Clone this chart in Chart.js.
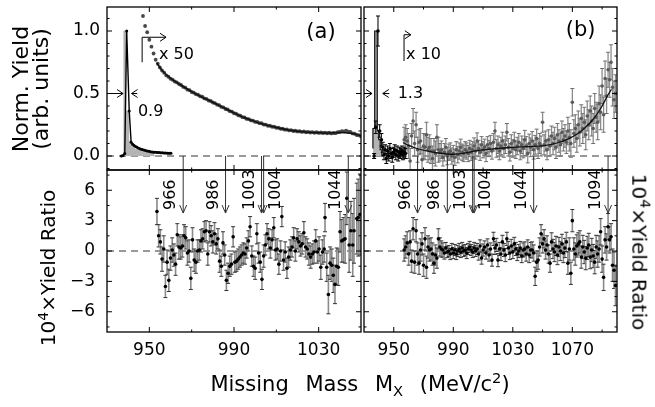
<!DOCTYPE html>
<html><head><meta charset="utf-8">
<script src="https://cdn.jsdelivr.net/npm/chart.js@4.4.1/dist/chart.umd.min.js"></script>
<style>
html,body{margin:0;padding:0;background:#fff;width:655px;height:407px;overflow:hidden;font-family:"DejaVu Sans",sans-serif;}
canvas{position:absolute;}
.t{position:absolute;white-space:nowrap;line-height:1;color:#000;}
</style></head><body>
<canvas id="ta" width="366" height="176" style="left:0;top:0"></canvas>
<canvas id="ba" width="366" height="243" style="left:0;top:164px"></canvas>
<canvas id="tb" width="297" height="176" style="left:358px;top:0"></canvas>
<canvas id="bb" width="297" height="243" style="left:358px;top:164px"></canvas>
<div class="t" style="left:21px;top:89px;font-size:22px;transform:translate(-50%,-50%) rotate(-90deg)">Norm. Yield</div>
<div class="t" style="left:41px;top:89px;font-size:22px;transform:translate(-50%,-50%) rotate(-90deg)">(arb. units)</div>
<div class="t" style="left:47px;top:268px;font-size:20px;transform:translate(-50%,-50%) rotate(-90deg)">10<span style="font-size:70%;vertical-align:0.55em">4</span>×Yield Ratio</div>
<div class="t" style="left:641px;top:252px;font-size:20px;transform:translate(-50%,-50%) rotate(90deg)">10<span style="font-size:70%;vertical-align:0.55em">4</span>×Yield Ratio</div>
<div class="t" style="left:360px;top:385px;font-size:21px;transform:translate(-50%,-50%);word-spacing:10px">Missing Mass M<span style="font-size:70%;vertical-align:-0.3em">X</span> (MeV/c<span style="font-size:70%;vertical-align:0.55em">2</span>)</div>
<script>
// ---------------- DATA ----------------
// Panel (a) top: peak (black) and gray histogram
const massPeakA = [936.8,937.6,938.4,939.3,940.5,941.4,942.1,942.8,943.5,944.2,945.0,945.8,946.6,947.4,948.2,949.0,949.8,950.6,951.4,952.2,953.0,953.8,954.6,955.4,956.2,957.0,957.8,958.6,959.4,960.2];
const yieldPeakA = [0.0,0.005,0.02,1.0,0.36,0.11,0.095,0.085,0.077,0.07,0.063,0.057,0.052,0.048,0.044,0.041,0.038,0.035,0.033,0.031,0.03,0.029,0.028,0.027,0.026,0.025,0.024,0.023,0.022,0.022];
const massHistA = [938.0,938.7,940.2,941.0,942.0,943.0,944.5,946.0,948.0,950.0,952.0,954.0];
const yieldHistA = [0.01,1.0,0.36,0.12,0.09,0.07,0.055,0.045,0.035,0.03,0.02,0];
// Panel (a) top: x50 continuum
const massX50A = [947,948,949,950,951,952,953,954,955,956,957,958,959,960,961,962,963,964,965,966,967,968,969,970,971,972,973,974,975,976,977,978,979,980,981,982,983,984,985,986,987,988,989,990,991,992,993,994,995,996,997,998,999,1000,1001,1002,1003,1004,1005,1006,1007,1008,1009,1010,1011,1012,1013,1014,1015,1016,1017,1018,1019,1020,1021,1022,1023,1024,1025,1026,1027,1028,1029,1030,1031,1032,1033,1034,1035,1036,1037,1038,1039,1040,1041,1042,1043,1044,1045,1046,1047,1048,1049,1050];
const yieldX50A = [1.12,1.04,0.99,0.93,0.875,0.82,0.77,0.738,0.708,0.684,
 0.667,0.645,0.634,0.618,0.61,0.596,0.589,0.576,0.568,0.553,
 0.547,0.531,0.527,0.512,0.507,0.495,0.49,0.478,0.474,0.461,
 0.457,0.444,0.44,0.428,0.423,0.411,0.406,0.393,0.389,0.376,
 0.372,0.359,0.355,0.342,0.338,0.326,0.322,0.311,0.308,0.297,
 0.295,0.285,0.283,0.273,0.272,0.263,0.262,0.252,0.251,0.242,
 0.242,0.234,0.234,0.226,0.226,0.218,0.218,0.211,0.212,0.205,
 0.207,0.2,0.202,0.196,0.198,0.193,0.196,0.19,0.193,0.188,
 0.191,0.186,0.19,0.185,0.188,0.184,0.187,0.182,0.186,0.181,
 0.184,0.183,0.19,0.192,0.199,0.197,0.203,0.194,0.192,0.181,
 0.178,0.168,0.166,0.157];
const massFitA = [953.5,956,960,965,970,975,980,985,990,995,1000,1005,1010,1015,1020,1025,1030,1035,1040,1045,1050];
const yieldFitA = [0.745,0.685,0.622,0.566,0.515,0.47,0.43,0.387,0.345,0.306,0.275,0.249,0.228,0.21,0.198,0.19,0.186,0.184,0.188,0.182,0.162];

// Panel (a) bottom: yield ratio
const massRatioA = [953.6,954.4,955.2,956.0,956.8,957.6,958.4,959.2,960.0,960.8,
 961.6,962.4,963.2,964.0,964.8,965.6,966.4,967.2,968.0,968.8,
 969.6,970.4,971.2,972.0,972.8,973.6,974.4,975.2,976.0,976.8,
 977.6,978.4,979.2,980.0,980.8,981.6,982.4,983.2,984.0,984.8,
 985.6,986.4,987.2,988.0,988.8,989.6,990.4,991.2,992.0,992.8,
 993.6,994.4,995.2,996.0,996.8,997.6,998.4,999.2,1000.0,1000.8,
 1001.6,1002.4,1003.2,1004.0,1004.8,1005.6,1006.4,1007.2,1008.0,1008.8,
 1009.6,1010.4,1011.2,1012.0,1012.6,1013.4,1014.2,1015.0,1015.8,1016.6,
 1017.4,1018.2,1019.0,1019.8,1020.6,1021.4,1022.2,1023.0,1023.8,1024.6,
 1025.4,1026.2,1027.0,1027.8,1028.6,1029.4,1030.2,1031.0,1031.8,1032.6,
 1033.0,1033.8,1034.6,1035.4,1036.2,1036.9,1037.7,1038.5,1039.3,1040.1,
 1040.9,1041.7,1042.5,1043.3,1044.4,1045.2,1046.1,1046.7,1048.0,1048.7,1049.5];
const ratioA = [3.9,1.5,0.9,-0.8,0.2,-3.5,-1.1,-2.9,-0.7,0.1,
 -0.4,-1.3,1.6,0.4,0.3,0.5,1.5,1.3,-0.2,0.0,
 -2.7,1.1,-0.9,-1.1,0.0,0.1,1.0,1.2,1.9,2.0,
 -0.3,1.9,1.5,0.9,1.7,0.7,1.2,-1.0,-1.5,0.8,
 -0.4,-2.9,-2.2,-1.5,-1.3,1.4,-1.1,-1.0,-0.8,-0.6,
 -0.4,-0.2,-0.3,0.3,1.0,2.4,-0.5,-1.5,-1.7,1.7,
 -0.2,-1.1,-2.8,-0.5,0.6,1.7,1.2,0.3,1.1,2.3,
 0.1,0.2,-1.3,0.0,3.4,-0.9,-0.1,-1.7,-0.6,0.1,
 0.4,1.3,0.0,1.2,0.9,0.5,0.7,1.8,0.4,0.2,
 -0.3,-0.6,-0.3,-0.1,1.0,-0.1,0.2,-1.6,-0.1,0.2,
 3.3,-1.6,-4.3,-1.2,-1.4,-2.4,-3.3,-1.5,-1.6,1.9,
 1.0,1.1,1.2,5.2,0.6,2.0,0.6,2.0,3.2,3.3,3.6];
const errRatioA = [1.3,1.1,1.2,1.2,1.3,1.1,1.2,1.1,1.2,1.2,
 1.1,1.1,1.1,1.2,1.1,1.1,1.1,1.1,1.2,1.1,
 1.1,1.2,1.1,1.1,1.1,1.0,1.1,1.0,1.0,1.0,
 1.1,1.0,1.0,1.1,1.1,1.0,1.0,1.1,1.0,1.1,
 1.0,1.0,1.0,1.0,1.0,1.0,1.0,1.0,1.0,1.0,
 1.0,1.0,1.0,1.0,1.0,1.0,1.0,1.0,1.1,1.0,
 1.0,1.0,1.0,1.1,1.0,1.0,1.0,1.0,1.0,1.0,
 1.0,1.0,1.0,1.0,1.0,1.0,1.0,1.0,1.0,1.0,
 1.0,1.0,1.0,1.0,1.0,1.0,1.0,1.1,1.0,1.0,
 1.1,1.1,1.0,1.1,1.1,1.1,1.2,1.2,1.2,1.3,
 1.4,1.4,1.9,1.6,1.6,1.7,1.9,1.8,1.8,2.0,
 2.1,2.2,2.4,2.6,2.7,2.9,3.1,3.2,3.5,3.8,4.0];

// Panel (b) top: peak
const massPeakB = [936.8,937.9,939.4,940.5,941.7,942.6,943.4,944.2,945.0,945.8,946.6,947.4,948.2,949.0,949.8,950.6,951.4,952.2,953.0,953.8,954.6,955.4,956.2,957.0,957.8];
const yieldPeakB = [0.0,0.23,1.0,0.2,0.13,0.07,0.01,0.05,-0.02,0.04,0.0,0.06,0.02,-0.01,0.03,0.05,0.01,0.04,0.0,0.03,0.02,0.04,0.01,0.03,0.02];
const errPeakB = [0.02,0.05,0.12,0.05,0.05,0.04,0.04,0.04,0.04,0.04,0.04,0.04,0.04,0.04,0.04,0.04,0.04,0.04,0.04,0.04,0.04,0.04,0.04,0.04,0.04];
const massHistB = [936.0,937.2,938.9,939.9,940.9,942.0,943.2];
const yieldHistB = [0.06,0.22,1.0,0.2,0.13,0.05,0];
// Panel (b): common mass bins for x10 continuum and ratio
const massB = [957,958,959,960,961,962,963,964,965,966,967,968,969,970,971,972,973,974,975,976,977,978,979,980,981,982,983,984,985,986,987,988,989,990,991,992,993,994,995,996,997,998,999,1000,1001,1002,1003,1004,1005,1006,1007,1008,1009,1010,1011,1012,1013,1014,1015,1016,1017,1018,1019,1020,1021,1022,1023,1024,1025,1026,1027,1028,1029,1030,1031,1032,1033,1034,1035,1036,1037,1038,1039,1040,1041,1042,1043,1044,1045,1046,1047,1048,1049,1050,1051,1052,1053,1054,1055,1056,1057,1058,1059,1060,1061,1062,1063,1064,1065,1066,1067,1068,1069,1070,1071,1072,1073,1074,1075,1076,1077,1078,1079,1080,1081,1082,1083,1084,1085,1086,1087,1088,1089,1090,1091,1092,1093,1094,1095,1096,1097,1098,1099];
const yieldX10B = [0.13,0.15,0.12,0.08,-0.04,0.16,0.28,0.10,0.25,0.05,
 0.11,0.12,-0.03,0.08,0.07,0.17,0.05,0.07,0.04,-0.02,
 0.04,0.02,0.15,0.05,0.03,0.05,-0.01,0.03,0.07,0.00,
 0.03,0.04,0.00,0.02,-0.01,0.05,0.01,0.04,0.07,0.03,
 0.02,0.05,0.04,0.02,0.06,0.03,0.05,0.08,0.04,0.12,
 0.06,0.03,0.09,0.05,0.07,0.02,0.09,0.06,0.10,0.04,
 0.11,0.20,0.06,0.09,0.04,0.08,0.12,0.06,0.09,0.19,
 0.07,0.03,0.10,0.06,0.12,0.05,0.08,0.11,0.04,0.09,
 0.06,0.13,0.08,0.02,0.10,0.07,0.12,0.05,0.09,0.14,
 0.06,0.10,0.08,0.27,0.09,0.12,0.05,0.13,0.08,0.16,
 0.10,0.14,0.07,0.17,0.12,0.09,0.19,0.13,0.16,0.11,
 0.20,0.15,0.10,0.43,0.18,0.22,0.14,0.25,0.19,0.30,
 0.22,0.27,0.17,0.32,0.25,0.36,0.28,0.22,0.38,0.31,
 0.27,0.42,0.35,0.56,0.33,0.62,0.48,0.69,0.61,0.75,
 0.55,0.45,0.50];
const errX10B = [0.10,0.10,0.10,0.10,0.10,0.10,0.10,0.10,0.10,0.10,
 0.10,0.10,0.10,0.10,0.10,0.10,0.10,0.10,0.10,0.10,
 0.10,0.10,0.10,0.10,0.07,0.07,0.07,0.07,0.07,0.07,
 0.065,0.065,0.065,0.065,0.065,0.065,0.065,0.065,0.065,0.065,
 0.065,0.065,0.065,0.065,0.065,0.065,0.065,0.065,0.065,0.065,
 0.065,0.065,0.065,0.065,0.065,0.065,0.065,0.065,0.065,0.065,
 0.07,0.07,0.07,0.07,0.07,0.07,0.07,0.07,0.07,0.07,
 0.07,0.07,0.07,0.07,0.07,0.07,0.07,0.07,0.07,0.07,
 0.075,0.075,0.075,0.075,0.075,0.075,0.075,0.075,0.075,0.075,
 0.08,0.08,0.08,0.08,0.08,0.08,0.08,0.08,0.08,0.08,
 0.09,0.09,0.09,0.09,0.09,0.09,0.09,0.09,0.09,0.09,
 0.11,0.11,0.11,0.11,0.11,0.11,0.11,0.11,0.11,0.11,
 0.12,0.12,0.12,0.12,0.12,0.12,0.12,0.12,0.12,0.12,
 0.14,0.14,0.14,0.14,0.14,0.14,0.14,0.14,0.14,0.14,
 0.15,0.15,0.15];
const massFitB = [956.2,960,965,972,980,990,1000,1005,1015,1028,1040,1050,1061,1067,1073,1078,1084,1089,1094,1096.3];
const yieldFitB = [0.108,0.085,0.062,0.041,0.024,0.014,0.028,0.041,0.055,0.068,0.075,0.081,0.108,0.135,0.174,0.22,0.294,0.38,0.49,0.534];
const ratioB = [0.1,0.4,0.8,-0.3,0.9,-1.0,2.2,-1.1,2.0,-0.3,
 -1.2,0.1,0.7,-1.4,1.2,-1.6,0.4,0.1,0.2,-0.3,
 -1.2,-0.4,-0.7,1.2,0.4,0.2,0.1,-0.2,0.3,-0.1,
 0.0,-0.3,0.2,-0.2,0.1,-0.3,0.0,0.2,-0.1,0.3,
 0.0,0.1,-0.2,0.2,0.4,0.1,-0.1,0.3,0.0,0.2,
 -0.3,0.5,-0.7,0.1,0.4,-0.2,0.6,-0.4,0.2,-0.9,
 1.2,0.3,0.6,-0.9,0.2,-0.3,0.9,0.1,-0.4,1.2,
 0.3,-0.2,0.5,-0.1,0.7,0.2,-0.3,0.0,0.3,-0.5,
 0.1,0.2,-0.3,0.4,-0.4,0.1,0.1,-0.2,-2.5,-1.1,
 -0.9,0.4,1.7,0.7,1.2,0.1,0.6,-0.3,-1.2,0.9,
 0.2,-0.1,0.5,-0.4,0.4,0.0,0.7,-0.2,0.3,0.9,
 -1.2,0.2,-2.2,3.0,0.2,-0.3,0.5,0.7,0.9,-0.6,
 0.4,-0.1,-0.7,0.3,0.6,-0.6,0.1,-0.5,-1.1,0.4,
 -0.3,0.2,1.9,-0.8,-2.6,1.1,0.4,2.4,1.1,1.4,
 -1.4,-1.9,-3.4];
const errRatioB = [1.1,1.1,1.1,1.1,1.1,1.1,1.1,1.1,1.1,1.1,
 1.1,1.1,1.1,1.1,1.1,1.1,1.1,1.1,1.1,1.1,
 1.0,1.0,1.0,1.0,0.9,0.8,0.7,0.6,0.55,0.55,
 0.55,0.55,0.55,0.55,0.55,0.55,0.55,0.55,0.55,0.55,
 0.55,0.55,0.55,0.55,0.55,0.55,0.55,0.55,0.55,0.55,
 0.6,0.6,0.6,0.6,0.6,0.6,0.6,0.6,0.6,0.6,
 0.65,0.65,0.65,0.65,0.65,0.65,0.65,0.65,0.65,0.65,
 0.65,0.65,0.65,0.65,0.65,0.65,0.65,0.65,0.65,0.65,
 0.7,0.7,0.7,0.7,0.75,0.75,0.8,0.8,0.9,0.9,
 0.9,0.9,0.9,0.9,0.9,0.9,0.9,0.9,0.9,0.9,
 0.95,0.95,0.95,0.95,0.95,0.95,0.95,0.95,0.95,0.95,
 1.1,1.1,1.1,1.1,1.1,1.1,1.1,1.1,1.1,1.1,
 1.15,1.15,1.15,1.15,1.15,1.15,1.15,1.15,1.15,1.15,
 1.3,1.3,1.3,1.3,1.3,1.3,1.3,1.3,1.3,1.3,
 1.6,1.8,2.0];

// Marked masses (arrows)
const arrowMassA = [966,986,1003,1004,1044];
const arrowLabelA = ['966','986','1003','1004','1044'];
const arrowSideA = [-1,-1,-1,1,-1];
const arrowMassB = [966,986,1003,1004,1044,1094];
const arrowLabelB = ['966','986','1003','1004','1044','1094'];
const arrowSideB = [-1,-1,-1,1,-1,-1];

// Ticks
const xMajorA = [950,990,1030], xMinorA = [970,1010];
const xMajorB = [950,990,1030,1070], xMinorB = [970,1010,1050,1090];
const yMajorTop = [0,0.5,1.0], yMinorTop = [-0.1,0.1,0.2,0.3,0.4,0.6,0.7,0.8,0.9,1.1];
const yMajorBot = [-6,-3,0,3,6], yMinorBot = [-7.5,-4.5,-1.5,1.5,4.5,7.5];

// ---------------- HELPERS ----------------
const FONT = '"DejaVu Sans", sans-serif';
Chart.defaults.font.family = FONT;
const pts = (xs, ys) => xs.map((v,i)=>({x:v, y:ys[i]}));
const extras = {};

function seg(ctx,x1,y1,x2,y2){ctx.beginPath();ctx.moveTo(x1,y1);ctx.lineTo(x2,y2);ctx.stroke();}
function head(ctx,x1,y1,x2,y2,h,w){
  const a=Math.atan2(y2-y1,x2-x1);
  ctx.beginPath();
  ctx.moveTo(x2-h*Math.cos(a)+w*Math.sin(a), y2-h*Math.sin(a)-w*Math.cos(a));
  ctx.lineTo(x2,y2);
  ctx.lineTo(x2-h*Math.cos(a)-w*Math.sin(a), y2-h*Math.sin(a)+w*Math.cos(a));
  ctx.stroke();
}
function arrow(ctx,x1,y1,x2,y2){seg(ctx,x1,y1,x2,y2);head(ctx,x1,y1,x2,y2,6,4);}
function txt(ctx,s,x,y,size,align){ctx.font=size+'px '+FONT;ctx.fillStyle='#000';ctx.textAlign=align||'left';ctx.textBaseline='middle';ctx.fillText(s,x,y);}

const deco = {
  id:'deco',
  beforeDatasetDraw(chart,args){
    const ds = chart.data.datasets[args.index];
    if(!ds.errors) return;
    const {ctx, chartArea:a, scales:{x,y}} = chart;
    ctx.save();ctx.beginPath();ctx.rect(a.left,a.top,a.width,a.height);ctx.clip();
    ds.data.forEach((p,i)=>{
      const e=ds.errors[i], px=x.getPixelForValue(p.x);
      const y1=y.getPixelForValue(p.y+e), y2=y.getPixelForValue(p.y-e);
      ctx.strokeStyle=ds.errColor; ctx.lineWidth=ds.errWidth; seg(ctx,px,y1,px,y2);
      ctx.strokeStyle=ds.capColor; ctx.lineWidth=1;
      seg(ctx,px-2,y1,px+2,y1); seg(ctx,px-2,y2,px+2,y2);
    });
    ctx.restore();
  },
  afterDatasetsDraw(chart){
    const e = extras[chart.canvas.id];
    if(e && e.fg){chart.ctx.save(); e.fg(chart); chart.ctx.restore();}
  },
  afterDraw(chart){
    const e = extras[chart.canvas.id]; if(!e) return;
    const {ctx, chartArea:a, scales:{x,y}} = chart;
    ctx.save(); ctx.strokeStyle='#000'; ctx.lineWidth=1;
    const L=5, l=2.5;
    const xt=(vals,len)=>vals.forEach(v=>{const p=x.getPixelForValue(v); seg(ctx,p,a.bottom,p,a.bottom-len); seg(ctx,p,a.top,p,a.top+len);});
    const yt=(vals,len)=>vals.forEach(v=>{const p=y.getPixelForValue(v); seg(ctx,a.left,p,a.left+len,p); seg(ctx,a.right,p,a.right-len,p);});
    xt(e.xMajor,L); xt(e.xMinor,l); yt(e.yMajor,L); yt(e.yMinor,l);
    ctx.lineWidth=1.3; ctx.strokeRect(a.left,a.top,a.right-a.left,a.bottom-a.top);
    ctx.restore();
  }
};
Chart.register(deco);

function options(o){
  return {
    responsive:false, animation:false, events:[],
    layout:{padding:o.pad},
    plugins:{legend:{display:false}, tooltip:{enabled:false}},
    scales:{
      x:{type:'linear', min:o.xmin, max:o.xmax, display:!!o.xLabels,
        grid:{display:false, drawTicks:false}, border:{display:false},
        ticks:{autoSkip:false, maxRotation:0, minRotation:0, padding:8, color:'#000', font:{size:17}, callback:v=>String(v)},
        afterBuildTicks:s=>{s.ticks=o.xMajor.map(v=>({value:v}));},
        afterFit:s=>{ if(o.xLabels){s.height=o.xH;} s.paddingLeft=0; s.paddingRight=0; }},
      y:{type:'linear', min:o.ymin, max:o.ymax, display:!!o.yLabels,
        grid:{display:false, drawTicks:false}, border:{display:false},
        ticks:{autoSkip:false, padding:o.yPad, color:'#000', font:{size:17}, callback:o.yFmt},
        afterBuildTicks:s=>{s.ticks=o.yMajor.map(v=>({value:v}));},
        afterFit:s=>{ if(o.yLabels){s.width=o.yW;} s.paddingTop=0; s.paddingBottom=0; }}
    }
  };
}
const fmtTop = v => Number(v).toFixed(1);
const fmtBot = v => v<0 ? '\u2212'+Math.abs(v) : String(v);
const zeroLine = (xmin,xmax) => ({data:[{x:xmin,y:0},{x:xmax,y:0}], borderColor:'#333', borderWidth:1, borderDash:[7,5], pointRadius:0, order:9});
const errSet = (xs,ys,es,opt) => Object.assign({data:pts(xs,ys), errors:es, showLine:false, pointRadius:1.8, pointBorderWidth:0, pointBackgroundColor:'#000', errColor:'#8a8a8a', errWidth:1.6, capColor:'#333', order:1}, opt||{});

// ---------------- PANEL (a) TOP ----------------
extras.ta = {xMajor:xMajorA, xMinor:xMinorA, yMajor:yMajorTop, yMinor:yMinorTop,
  fg(chart){
    const {ctx, chartArea:a, scales:{x,y}} = chart;
    ctx.strokeStyle='#333'; ctx.lineWidth=1;
    arrowMassA.forEach(m=>{const p=x.getPixelForValue(m); seg(ctx,p,y.getPixelForValue(0),p,a.bottom);});
    ctx.strokeStyle='#000';
    arrow(ctx,x.getPixelForValue(931.5),y.getPixelForValue(0.5),x.getPixelForValue(937.6),y.getPixelForValue(0.5));
    arrow(ctx,x.getPixelForValue(944.3),y.getPixelForValue(0.5),x.getPixelForValue(941.6),y.getPixelForValue(0.5));
    txt(ctx,'0.9',x.getPixelForValue(944.6),y.getPixelForValue(0.355),16);
    const bx=x.getPixelForValue(946.6), by1=y.getPixelForValue(0.75), by2=y.getPixelForValue(0.95), bx2=x.getPixelForValue(957.9);
    seg(ctx,bx,by1,bx,by2); arrow(ctx,bx,by2,bx2,by2);
    txt(ctx,'x 50',x.getPixelForValue(954.6),y.getPixelForValue(0.81),16);
    txt(ctx,'(a)',x.getPixelForValue(1031.1),y.getPixelForValue(0.99),21,'center');
  }};
new Chart(document.getElementById('ta'), {
  type:'line',
  data:{datasets:[
    {data:pts(massPeakA,yieldPeakA), borderColor:'#000', borderWidth:1.4, pointRadius:1.5, pointBorderWidth:0, pointBackgroundColor:'#000', order:1},
    {data:pts(massFitA,yieldFitA), borderColor:'#111', borderWidth:1.5, pointRadius:0, cubicInterpolationMode:'monotone', order:2},
    {data:pts(massX50A,yieldX50A), showLine:false, pointRadius:1.9, pointBorderWidth:0, pointBackgroundColor:'#484848', order:3},
    {data:pts(massHistA,yieldHistA), stepped:'after', fill:'origin', backgroundColor:'#b4b4b4', borderColor:'#b4b4b4', borderWidth:1, pointRadius:0, order:6},
    zeroLine(930,1050)
  ]},
  options:options({pad:{left:0,top:7,right:5,bottom:6}, xmin:930, xmax:1050, ymin:-0.112, ymax:1.192,
    xMajor:xMajorA, yMajor:yMajorTop, yLabels:true, yW:107, yPad:7, yFmt:fmtTop})
});

// ---------------- PANEL (a) BOTTOM ----------------
function bottomFg(masses, labels, sides){
  return function(chart){
    const {ctx, chartArea:a, scales:{x,y}} = chart;
    const tip = y.getPixelForValue(3.75);
    masses.forEach((m,i)=>{
      const p=x.getPixelForValue(m);
      ctx.strokeStyle='#333'; ctx.lineWidth=1;
      seg(ctx,p,a.top,p,tip);
      ctx.beginPath(); ctx.moveTo(p-3.5,tip-8); ctx.lineTo(p,tip); ctx.lineTo(p+3.5,tip-8); ctx.stroke();
      ctx.save(); ctx.translate(p+sides[i]*12, tip-3); ctx.rotate(-Math.PI/2);
      txt(ctx,labels[i],0,0,16,'left'); ctx.restore();
    });
  };
}
extras.ba = {xMajor:xMajorA, xMinor:xMinorA, yMajor:yMajorBot, yMinor:yMinorBot, fg:bottomFg(arrowMassA,arrowLabelA,arrowSideA)};
new Chart(document.getElementById('ba'), {
  type:'line',
  data:{datasets:[ errSet(massRatioA,ratioA,errRatioA), zeroLine(930,1050) ]},
  options:options({pad:{left:0,top:6,right:5,bottom:0}, xmin:930, xmax:1050, ymin:-8, ymax:8,
    xMajor:xMajorA, xLabels:true, xH:75, yMajor:yMajorBot, yLabels:true, yW:107, yPad:12, yFmt:fmtBot})
});

// ---------------- PANEL (b) TOP ----------------
extras.tb = {xMajor:xMajorB, xMinor:xMinorB, yMajor:yMajorTop, yMinor:yMinorTop,
  fg(chart){
    const {ctx, chartArea:a, scales:{x,y}} = chart;
    ctx.strokeStyle='#333'; ctx.lineWidth=1;
    arrowMassB.forEach(m=>{const p=x.getPixelForValue(m); seg(ctx,p,y.getPixelForValue(0),p,a.bottom);});
    ctx.strokeStyle='#000';
    arrow(ctx,x.getPixelForValue(930.5),y.getPixelForValue(0.5),x.getPixelForValue(935.4),y.getPixelForValue(0.5));
    arrow(ctx,x.getPixelForValue(947.0),y.getPixelForValue(0.5),x.getPixelForValue(942.6),y.getPixelForValue(0.5));
    txt(ctx,'1.3',x.getPixelForValue(952.6),y.getPixelForValue(0.5),16);
    const bx=x.getPixelForValue(956.9), by1=y.getPixelForValue(0.76), by2=y.getPixelForValue(0.97), bx2=x.getPixelForValue(961.5);
    seg(ctx,bx,by1,bx,by2); arrow(ctx,bx,by2,bx2,by2);
    txt(ctx,'x 10',x.getPixelForValue(958.3),y.getPixelForValue(0.81),16);
    txt(ctx,'(b)',x.getPixelForValue(1075.6),y.getPixelForValue(1.0),21,'center');
  }};
new Chart(document.getElementById('tb'), {
  type:'line',
  data:{datasets:[
    errSet(massPeakB,yieldPeakB,errPeakB,{order:1, errColor:'#222', errWidth:1.2, capColor:'#000'}),
    {data:pts(massFitB,yieldFitB), borderColor:'#111', borderWidth:1.3, pointRadius:0, cubicInterpolationMode:'monotone', order:2},
    errSet(massB,yieldX10B,errX10B,{order:3, pointRadius:1.8, pointBackgroundColor:'#5a5a5a', errColor:'#8c8c8c', errWidth:1.3, capColor:'#707070'}),
    {data:pts(massHistB,yieldHistB), stepped:'after', fill:'origin', backgroundColor:'#b4b4b4', borderColor:'#111', borderWidth:1.2, pointRadius:0, order:6},
    zeroLine(930,1100)
  ]},
  options:options({pad:{left:6,top:7,right:38,bottom:6}, xmin:930, xmax:1100, ymin:-0.112, ymax:1.192,
    xMajor:xMajorB, yMajor:yMajorTop, yLabels:false, yPad:7, yFmt:fmtTop})
});

// ---------------- PANEL (b) BOTTOM ----------------
extras.bb = {xMajor:xMajorB, xMinor:xMinorB, yMajor:yMajorBot, yMinor:yMinorBot, fg:bottomFg(arrowMassB,arrowLabelB,arrowSideB)};
new Chart(document.getElementById('bb'), {
  type:'line',
  data:{datasets:[ errSet(massB,ratioB,errRatioB), zeroLine(930,1100) ]},
  options:options({pad:{left:6,top:6,right:38,bottom:0}, xmin:930, xmax:1100, ymin:-8, ymax:8,
    xMajor:xMajorB, xLabels:true, xH:75, yMajor:yMajorBot, yLabels:false, yPad:12, yFmt:fmtBot})
});
</script>
</body></html>
